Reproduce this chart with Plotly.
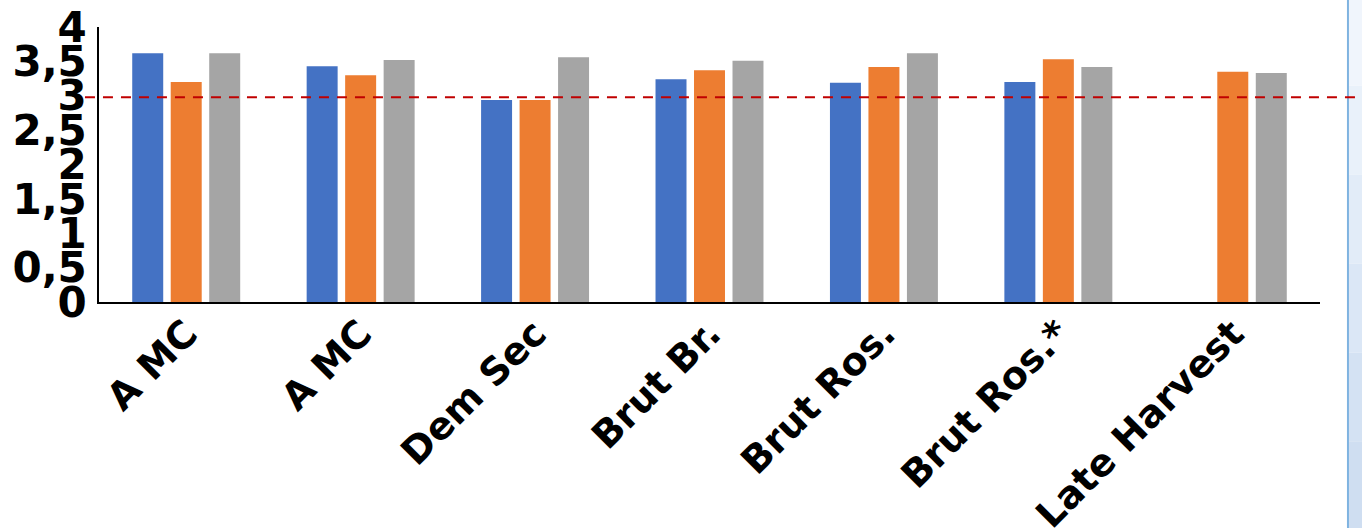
import plotly.graph_objects as go

categories = ["A MC", "A MC ", "Dem Sec", "Brut Br.", "Brut Ros.", "Brut Ros.*", "Late Harvest"]
tick_text = ["A MC", "A MC", "Dem Sec", "Brut Br.", "Brut Ros.", "Brut Ros.*", "Late Harvest"]
series_blue = [3.62, 3.43, 2.94, 3.24, 3.19, 3.20, None]
series_orange = [3.20, 3.30, 2.94, 3.37, 3.42, 3.53, 3.35]
series_gray = [3.62, 3.52, 3.56, 3.51, 3.62, 3.42, 3.33]
reference_value = 2.98
y_ticks = [0, 0.5, 1, 1.5, 2, 2.5, 3, 3.5, 4]

fig = go.Figure()
for vals, col in [(series_blue, "#4472C4"), (series_orange, "#ED7D31"), (series_gray, "#A5A5A5")]:
    fig.add_trace(go.Bar(x=categories, y=vals, marker=dict(color=col, line=dict(width=0)),
                         showlegend=False, hoverinfo="skip"))

# side panel strip at the right edge (light vertical gradient)
strip_colors = ["#f0f5fc", "#e9f1fa", "#e2ecf8", "#dbe7f6", "#d4e2f3", "#cfdef1"]
y_lo, y_hi = -0.83, 1.11
n = len(strip_colors)
for i, c in enumerate(strip_colors):
    ya = y_hi - (y_hi - y_lo) * i / n
    yb = y_hi - (y_hi - y_lo) * (i + 1) / n
    fig.add_shape(type="rect", xref="paper", yref="paper", x0=1.0229, x1=1.06, y0=yb, y1=ya,
                  fillcolor=c, line=dict(width=0), layer="above")
fig.add_shape(type="line", xref="paper", yref="paper", x0=1.0229, x1=1.0229, y0=y_lo, y1=y_hi,
              line=dict(color="#7fb3e0", width=2), layer="above")
fig.add_shape(type="line", xref="paper", yref="y", x0=-0.0115, x1=1.06, y0=reference_value, y1=reference_value,
              line=dict(color="#C00000", width=2, dash="10px,8px"), layer="above")

fig.update_layout(
    width=1362, height=528,
    margin=dict(l=99, r=42, t=27, b=226),
    paper_bgcolor="white", plot_bgcolor="white",
    barmode="group", bargap=0.338, bargroupgap=0.195,
    separators=",.",
    font=dict(family="DejaVu Sans", color="black"),
)
fig.update_xaxes(
    tickvals=categories, ticktext=tick_text, tickangle=-45, automargin=False,
    tickfont=dict(family="DejaVu Sans", size=38, color="black", weight="bold"),
    showline=True, linecolor="black", linewidth=2, showgrid=False, ticks="",
    ticklabelstandoff=-8,
)
fig.update_yaxes(
    range=[0, 4], tickvals=y_ticks, automargin=False,
    tickfont=dict(family="DejaVu Sans", size=42, color="black", weight="bold"),
    showline=True, linecolor="black", linewidth=1.5, showgrid=False, zeroline=False, ticks="",
    ticklabelstandoff=2,
)
fig.write_html(
    "out.html",
    config={"displayModeBar": False},
    post_script="document.body.style.margin='0';document.body.style.overflow='hidden';",
)
